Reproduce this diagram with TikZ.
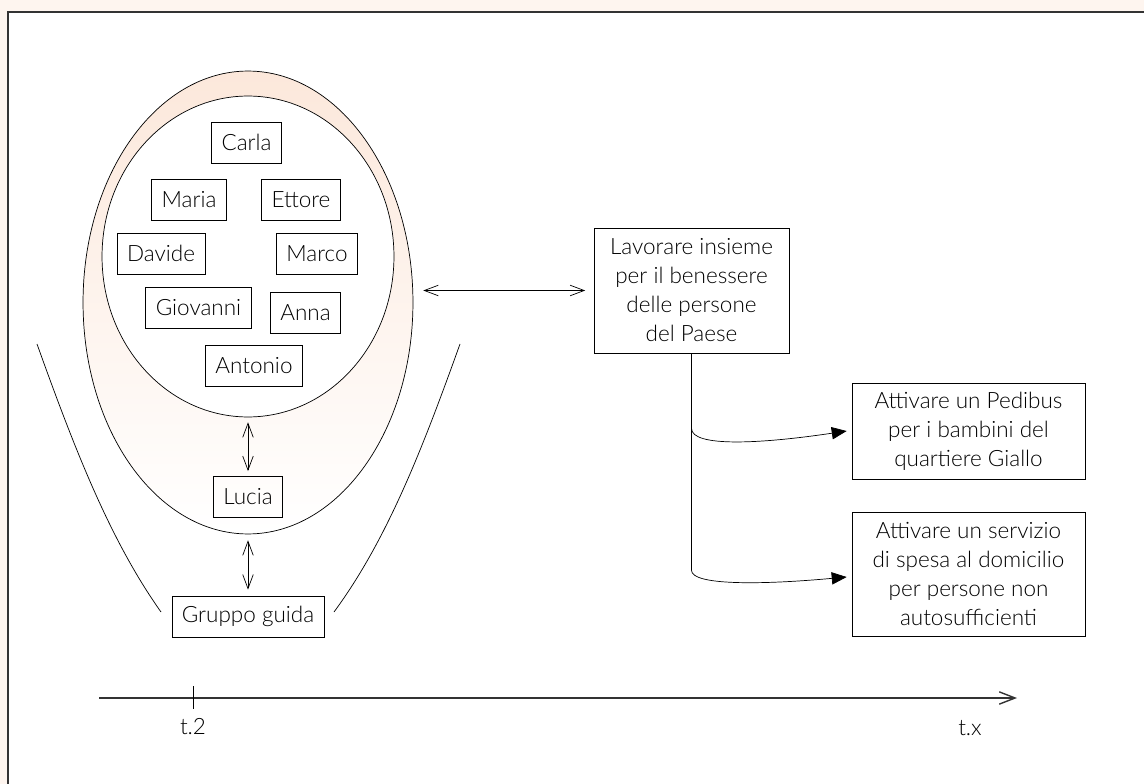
\documentclass[tikz,border=0pt]{standalone}
\usepackage{fontspec}
\setmainfont{Lato Light}
\usetikzlibrary{arrows.meta,shapes.geometric}
\definecolor{peach}{HTML}{FEF5EF}
\definecolor{salmon}{HTML}{FCE8DB}
\tikzset{
  nome/.style={draw, thin, minimum height=0.82cm, inner xsep=0.2cm, font=\fontsize{12.8}{16}\selectfont},
  meta/.style={draw, thin, align=center, inner sep=0pt, font=\fontsize{12.8}{16.5}\selectfont},
  dbl/.style={thin, {Straight Barb[length=8pt,width=6pt]}-{Straight Barb[length=8pt,width=6pt]}},
  tri/.style={thin, -{Triangle[length=8.5pt,width=7pt]}},
}
\begin{document}
\begin{tikzpicture}[x=0.02cm,y=-0.02cm]
      \useasboundingbox (0,0) rectangle (1144,784);
      \fill[peach] (0,0) rectangle (1144,784);
      \draw[fill=white, draw=black!80, line width=1pt] (8,12) rectangle (1170,810);

      \node[ellipse, draw, thin, inner sep=0pt, minimum width=6.6cm, minimum height=9.26cm,
        top color=salmon, middle color=salmon!75, bottom color=white] (rete) at (248,302.5){};
      \node[ellipse, draw, thin, fill=white, inner sep=0pt, minimum width=5.84cm, minimum height=6.42cm] (squadra) at (248,256.5){};

      \draw[thin] (37,344) .. controls (75,450) and (110,540) .. (161,612);
      \draw[thin] (460,344) .. controls (422,450) and (387,540) .. (334,612);

      \node[nome] (carla) at (246.5,142.5){Carla};
      \node[nome] (maria) at (189,199.5){Maria};
      \node[nome] (ettore) at (301,199.5){Ettore};
      \node[nome] (davide) at (161,253.5){Davide};
      \node[nome] (marco) at (317,253.5){Marco};
      \node[nome] (giovanni) at (198.5,307.5){Giovanni};
      \node[nome] (anna) at (305.5,312.5){Anna};
      \node[nome] (antonio) at (254,365.5){Antonio};
      \node[nome] (lucia) at (248,497){Lucia};
      \node[nome] (guida) at (248,616.5){Gruppo guida};

      \node[meta, minimum width=3.9cm, minimum height=2.5cm] (lavoro) at (691.5,290.5){Lavorare insieme\\per il benessere\\delle persone\\del Paese};
      \node[meta, minimum width=4.66cm, minimum height=1.92cm] (pedibus) at (968.5,431){Attivare un Pedibus\\per i bambini del\\quartiere Giallo};
      \node[meta, minimum width=4.66cm, minimum height=2.48cm] (servizio) at (968.5,574){Attivare un servizio\\di spesa al domicilio\\per persone non\\autosufficienti};

      \draw[dbl, shorten <=0.2cm, shorten >=0.17cm](rete.east |- lavoro.west) -- (lavoro.west);
      \draw[dbl, shorten <=0.1cm, shorten >=0.1cm](squadra.south) -- (lucia.north);
      \draw[dbl, shorten <=0.12cm, shorten >=0.12cm](rete.south) -- (guida.north);

      \draw[tri](lavoro.south) -- ++(0,75) .. controls +(0,19) and +(-87,13) .. ([xshift=-0.1cm]pedibus.west);
      \draw[tri](lavoro.south) -- ++(0,217) .. controls +(0,15) and +(-87,8) .. ([xshift=-0.1cm,yshift=-0.06cm]servizio.west);

      \coordinate (t0) at (99,698);
      \coordinate (tfine) at (1017,698);
      \draw[black!80, line width=0.8pt, -{Straight Barb[length=9pt,width=7pt]}](t0) -- (tfine);
      \coordinate (tick) at (193,698);
      \draw[thin]([yshift=0.24cm]tick) -- ([yshift=-0.22cm]tick);
      \node[font=\fontsize{12.8}{16}\selectfont] (t2) at (193,727){t.2};
      \node[font=\fontsize{12.8}{16}\selectfont] (tx) at (970,728){t.x};

    \end{tikzpicture}
\end{document}
